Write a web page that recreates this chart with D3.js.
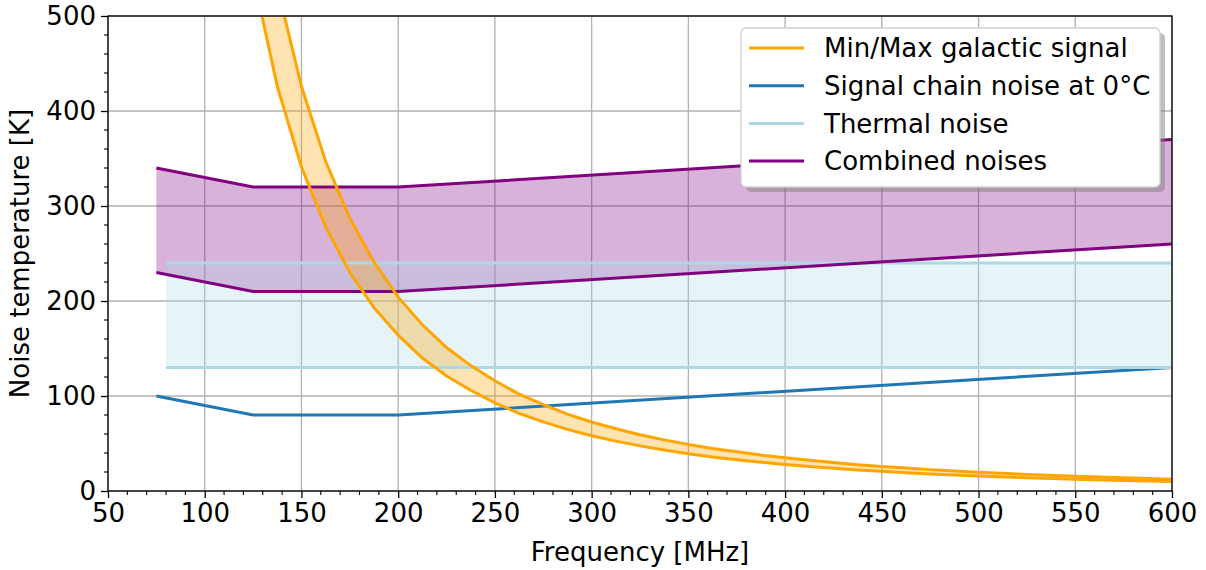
<!DOCTYPE html>
<html>
<head>
<meta charset="utf-8">
<script src="https://cdn.jsdelivr.net/npm/d3@7"></script>
<style>
  body { margin: 0; background: #fff; }
  svg text { font-family: "DejaVu Sans", sans-serif; fill: #000; }
</style>
</head>
<body>
<div id="chart"></div>
<script>
// frequencies [MHz] and temperatures [K]
var chainFreq = [75, 125, 200, 600];
var chainNoise = [100, 80, 80, 130];

var thermalFreq = [80, 600];
var thermalMin = [130, 130];
var thermalMax = [240, 240];

var combinedFreq = [75, 125, 200, 600];
var combinedMin = [230, 210, 210, 260];
var combinedMax = [340, 320, 320, 370];

var galFreq = [125, 137.5, 150, 162.5, 175, 187.5, 200, 212.5, 225, 237.5, 250, 262.5, 275, 287.5,
  300, 312.5, 325, 337.5, 350, 362.5, 375, 387.5, 400, 412.5, 425, 437.5, 450, 462.5, 475, 487.5,
  500, 525, 550, 575, 600];
var galMin = [543, 426, 341, 278, 230, 193, 164, 140, 121, 106, 92.7, 81.8, 72.7, 64.9,
  58.2, 52.5, 47.5, 43.1, 39.3, 35.9, 33.0, 30.3, 28.0, 25.9, 24.0, 22.2, 20.7, 19.3, 18.0, 16.9,
  15.8, 14.0, 12.4, 11.1, 9.9];
var galMax = [677, 531, 426, 347, 287, 241, 204, 175, 151, 132, 116, 102, 91, 81,
  72.6, 65.5, 59.3, 53.8, 49.0, 44.8, 41.2, 37.8, 35.0, 32.3, 30.0, 27.7, 25.8, 24.1, 22.5, 21.1,
  19.7, 17.5, 15.5, 13.9, 12.4];

var xTicks = [50, 100, 150, 200, 250, 300, 350, 400, 450, 500, 550, 600];
var yTicks = [0, 100, 200, 300, 400, 500];

var legendLabels = ["Min/Max galactic signal", "Signal chain noise at 0°C", "Thermal noise", "Combined noises"];
var legendColors = ["orange", "#1f77b4", "lightblue", "purple"];

var svgWidth = 1206;
var svgHeight = 570;
var margin = { top: 16, right: 34, bottom: 79, left: 108 };
var chartWidth = svgWidth - margin.left - margin.right;
var chartHeight = svgHeight - margin.top - margin.bottom;
var fontSize = 26;

var svg = d3.select("#chart")
  .append("svg")
  .attr("width", svgWidth)
  .attr("height", svgHeight);

var xScale = d3.scaleLinear().domain([50, 600]).range([0, chartWidth]);
var yScale = d3.scaleLinear().domain([0, 500]).range([chartHeight, 0]);

var chartGroup = svg.append("g")
  .attr("transform", `translate(${margin.left}, ${margin.top})`);

svg.append("defs").append("clipPath").attr("id", "clip")
  .append("rect").attr("width", chartWidth).attr("height", chartHeight);

// grid
chartGroup.append("g").selectAll("line").data(xTicks).enter().append("line")
  .attr("x1", d => xScale(d)).attr("x2", d => xScale(d))
  .attr("y1", 0).attr("y2", chartHeight)
  .attr("stroke", "#b0b0b0").attr("stroke-width", 1.3);
chartGroup.append("g").selectAll("line").data(yTicks).enter().append("line")
  .attr("y1", d => yScale(d)).attr("y2", d => yScale(d))
  .attr("x1", 0).attr("x2", chartWidth)
  .attr("stroke", "#b0b0b0").attr("stroke-width", 1.3);

var plot = chartGroup.append("g").attr("clip-path", "url(#clip)");

function band(freq, lo, hi) {
  return d3.area()
    .x((d, i) => xScale(freq[i]))
    .y0((d, i) => yScale(lo[i]))
    .y1((d, i) => yScale(hi[i]))(freq);
}
function line(freq, vals) {
  return d3.line()
    .x((d, i) => xScale(freq[i]))
    .y((d, i) => yScale(vals[i]))(freq);
}

// fills
plot.append("path").attr("d", band(combinedFreq, combinedMin, combinedMax))
  .attr("fill", "purple").attr("fill-opacity", 0.3);
plot.append("path").attr("d", band(thermalFreq, thermalMin, thermalMax))
  .attr("fill", "lightblue").attr("fill-opacity", 0.3);
plot.append("path").attr("d", band(galFreq, galMin, galMax))
  .attr("fill", "orange").attr("fill-opacity", 0.3);

// lines
var lw = 3;
plot.append("path").attr("d", line(chainFreq, chainNoise))
  .attr("fill", "none").attr("stroke", "#1f77b4").attr("stroke-width", lw);
[thermalMin, thermalMax].forEach(v => {
  plot.append("path").attr("d", line(thermalFreq, v))
    .attr("fill", "none").attr("stroke", "lightblue").attr("stroke-width", lw);
});
[combinedMin, combinedMax].forEach(v => {
  plot.append("path").attr("d", line(combinedFreq, v))
    .attr("fill", "none").attr("stroke", "purple").attr("stroke-width", lw);
});
[galMin, galMax].forEach(v => {
  plot.append("path").attr("d", line(galFreq, v))
    .attr("fill", "none").attr("stroke", "orange").attr("stroke-width", lw);
});

// axes
var bottomAxis = d3.axisBottom(xScale).tickValues(xTicks).tickSize(7).tickPadding(6);
var leftAxis = d3.axisLeft(yScale).tickValues(yTicks).tickSize(7).tickPadding(5);

var xMinor = d3.range(50, 601, 10).filter(d => d % 50 !== 0);
var yMinor = d3.range(0, 501, 20).filter(d => d % 100 !== 0);

chartGroup.append("g").selectAll("line").data(xMinor).enter().append("line")
  .attr("x1", d => xScale(d)).attr("x2", d => xScale(d))
  .attr("y1", chartHeight).attr("y2", chartHeight + 4)
  .attr("stroke", "#000").attr("stroke-width", 1.1);
chartGroup.append("g").selectAll("line").data(yMinor).enter().append("line")
  .attr("y1", d => yScale(d)).attr("y2", d => yScale(d))
  .attr("x1", 0).attr("x2", -4)
  .attr("stroke", "#000").attr("stroke-width", 1.1);

var gx = chartGroup.append("g")
  .attr("transform", `translate(0, ${chartHeight})`)
  .call(bottomAxis);
var gy = chartGroup.append("g").call(leftAxis);
[gx, gy].forEach(g => {
  g.select(".domain").remove();
  g.selectAll("line").attr("stroke-width", 1.3);
  g.selectAll("text").attr("font-size", fontSize).attr("font-family", "DejaVu Sans");
});

// frame
chartGroup.append("rect")
  .attr("width", chartWidth).attr("height", chartHeight)
  .attr("fill", "none").attr("stroke", "#000").attr("stroke-width", 1.3);

// axis titles
svg.append("text")
  .attr("x", margin.left + chartWidth / 2)
  .attr("y", 561)
  .attr("text-anchor", "middle")
  .attr("font-size", fontSize)
  .text("Frequency [MHz]");

svg.append("text")
  .attr("transform", `translate(29, ${margin.top + chartHeight / 2}) rotate(-90)`)
  .attr("text-anchor", "middle")
  .attr("font-size", fontSize)
  .text("Noise temperature [K]");

// legend
var lx = 741, ly = 28, lwid = 419, lh = 159;
svg.append("rect")
  .attr("x", lx + 5).attr("y", ly + 5).attr("width", lwid).attr("height", lh)
  .attr("rx", 5).attr("fill", "#808080").attr("fill-opacity", 0.5);
svg.append("rect")
  .attr("x", lx).attr("y", ly).attr("width", lwid).attr("height", lh)
  .attr("rx", 5).attr("fill", "#fff").attr("stroke", "#d0d0d0").attr("stroke-width", 1.3);

var items = svg.append("g").selectAll("g").data(legendLabels).enter().append("g")
  .attr("transform", (d, i) => `translate(${lx}, ${ly + 20 + i * 37.7})`);
items.append("line")
  .attr("x1", 8).attr("x2", 63)
  .attr("stroke", (d, i) => legendColors[i]).attr("stroke-width", lw);
items.append("text")
  .attr("x", 83).attr("dy", "0.36em")
  .attr("font-size", fontSize)
  .text(d => d);
</script>
</body>
</html>
